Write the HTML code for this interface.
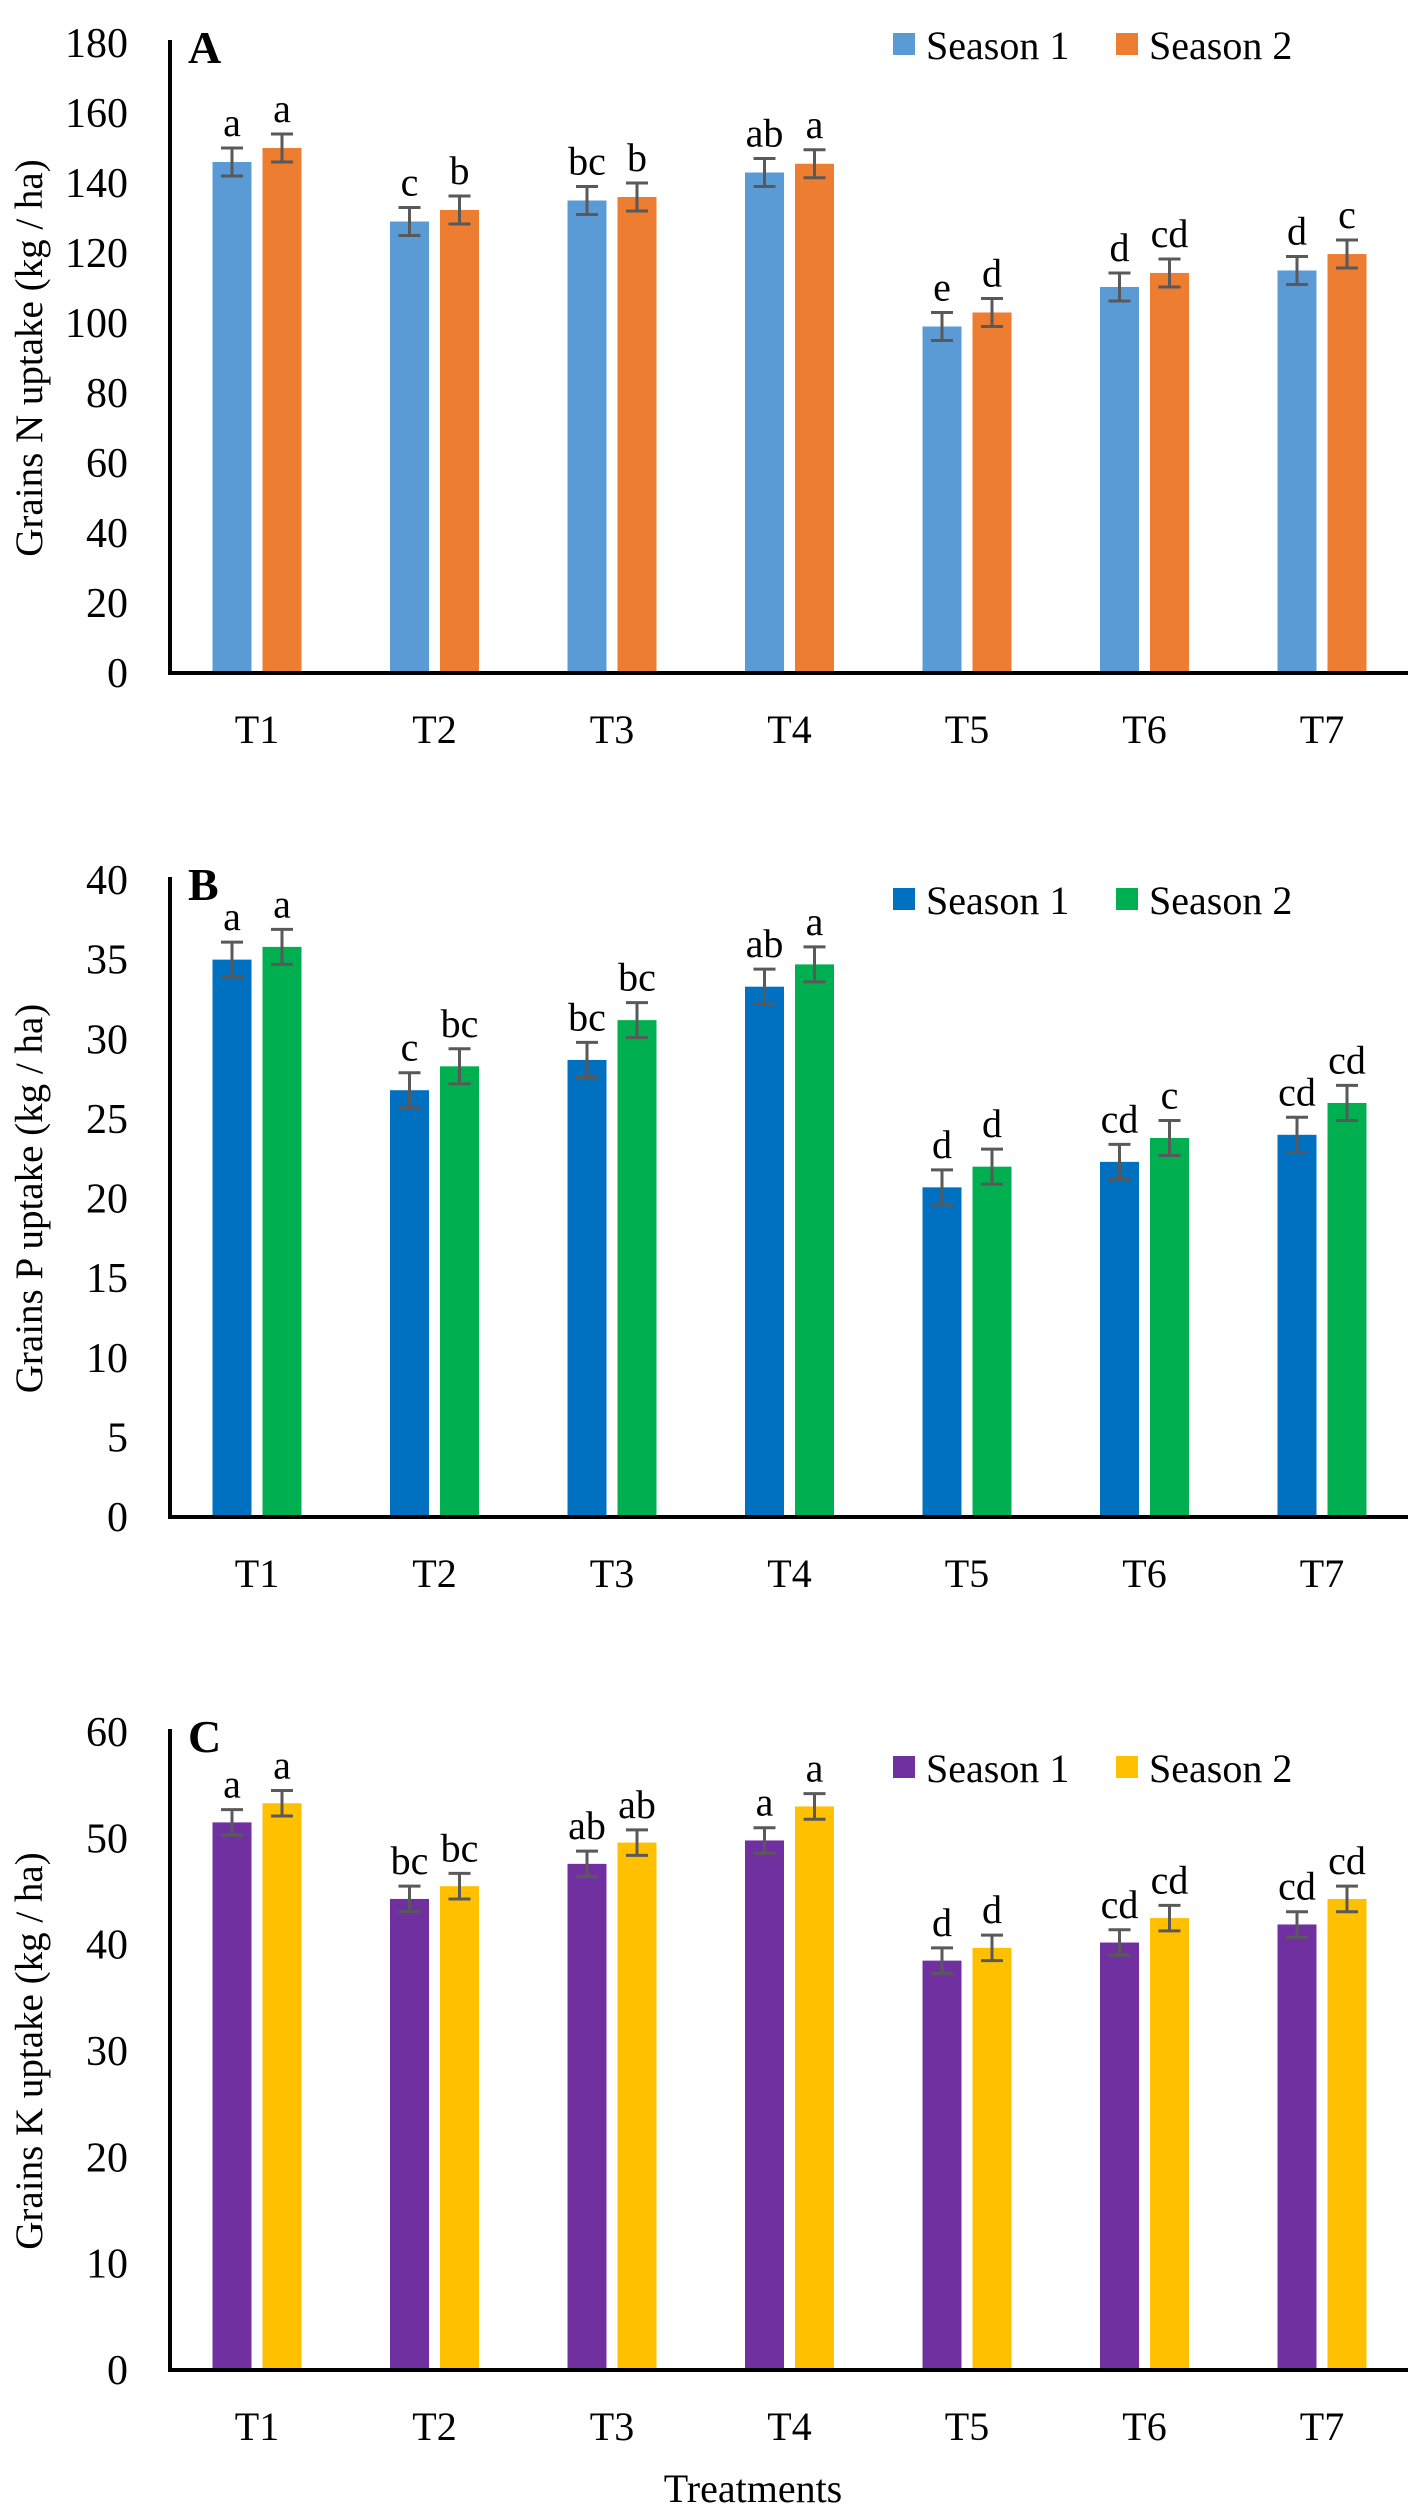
<!DOCTYPE html>
<html><head><meta charset="utf-8"><style>
html,body{margin:0;padding:0;background:#fff;}
svg{display:block;font-family:"Liberation Serif","Times New Roman",serif;}
</style></head><body>
<svg id="chart" width="1417" height="2511" viewBox="0 0 1417 2511" xmlns="http://www.w3.org/2000/svg">
<rect width="1417" height="2511" fill="#fff"/>
<text x="753" y="2502" font-size="40" text-anchor="middle">Treatments</text>
</svg>
<script>
const categories = ["T1","T2","T3","T4","T5","T6","T7"];
const nSeason1 = [146,129,135,143,99,110.3,115];
const nSeason2 = [150,132.3,136,145.5,103,114.3,119.7];
const nErr1 = [4,4,4,4,4,4,4];
const nErr2 = [4,4,4,4,4,4,4];
const nLetters1 = ["a","c","bc","ab","e","d","d"];
const nLetters2 = ["a","b","b","a","d","cd","c"];
const nTicks = [0,20,40,60,80,100,120,140,160,180];
const pSeason1 = [35,26.8,28.7,33.3,20.7,22.3,24];
const pSeason2 = [35.8,28.3,31.2,34.7,22,23.8,26];
const pErr1 = [1.1,1.1,1.1,1.1,1.1,1.1,1.1];
const pErr2 = [1.1,1.1,1.1,1.1,1.1,1.1,1.1];
const pLetters1 = ["a","c","bc","ab","d","cd","cd"];
const pLetters2 = ["a","bc","bc","a","d","c","cd"];
const pTicks = [0,5,10,15,20,25,30,35,40];
const kSeason1 = [51.5,44.3,47.6,49.8,38.5,40.2,41.9];
const kSeason2 = [53.3,45.5,49.6,53,39.7,42.5,44.3];
const kErr1 = [1.2,1.2,1.2,1.2,1.2,1.2,1.2];
const kErr2 = [1.2,1.2,1.2,1.2,1.2,1.2,1.2];
const kLetters1 = ["a","bc","ab","a","d","cd","cd"];
const kLetters2 = ["a","bc","ab","a","d","cd","cd"];
const kTicks = [0,10,20,30,40,50,60];

const NS="http://www.w3.org/2000/svg";
const svg=document.getElementById('chart');
function mk(tag,attrs,parent){const e=document.createElementNS(NS,tag);for(const k in attrs)e.setAttribute(k,attrs[k]);(parent||svg).appendChild(e);return e;}

function panel(cfg){
  const g=mk('g',{});
  
  
  const y0=cfg.base, yTop=cfg.top, vmax=cfg.ticks[cfg.ticks.length-1];
  const yScale=v=>y0-(v/vmax)*(y0-yTop);
  const xC=i=>257+177.5*i;
  cfg.ticks.forEach(t=>{
    const tx=mk('text',{x:128,y:yScale(t)+14,'font-size':42,'text-anchor':'end'},g);
    
    
    tx.textContent=t;
  });
  const series=[[cfg.s1,cfg.e1,cfg.l1,cfg.c1,-44.5],[cfg.s2,cfg.e2,cfg.l2,cfg.c2,5.5]];
  series.forEach((s,si)=>{
    s[0].forEach((v,i)=>{
      const x=xC(i)+s[4];
      const r=mk('rect',{x:x,y:yScale(v),width:39,height:y0-yScale(v),fill:s[3]},g);
      
      
      const cx=x+19.5, yh=yScale(v+s[1][i]), yl=yScale(v-s[1][i]);
      const eb=mk('path',{d:`M${cx},${yh}V${yl}M${cx-11},${yh}H${cx+11}M${cx-11},${yl}H${cx+11}`,stroke:'#595959','stroke-width':3,fill:'none'},g);
      
      
      const lt=mk('text',{x:cx,y:yh-12,'font-size':40,'text-anchor':'middle'},g);
      
      
      lt.textContent=s[2][i];
    });
  });
  const ax=mk('path',{d:`M170,${yTop-3}V${y0}H1408`,stroke:'#000','stroke-width':4,fill:'none'},g);
  
  
  categories.forEach((c,i)=>{
    const t=mk('text',{x:xC(i),y:y0+70,'font-size':40,'text-anchor':'middle'},g);
    
    
    t.textContent=c;
  });
  const pl=mk('text',{x:188,y:yTop+20,'font-size':46,'font-weight':'bold'},g);
  
  
  pl.textContent=cfg.id;
  const yt=mk('text',{x:0,y:0,'font-size':39,'text-anchor':'middle',transform:`translate(42,${(y0+yTop)/2}) rotate(-90)`},g);
  
  
  yt.textContent=cfg.title;
  const ly=cfg.leg;
  [[cfg.c1,'Season 1',893],[cfg.c2,'Season 2',1116]].forEach(l=>{
    const sq=mk('rect',{x:l[2],y:ly-11,width:22,height:22,fill:l[0]},g);
    
    
    const lt=mk('text',{x:l[2]+33,y:ly+15,'font-size':40},g);
    
    
    lt.textContent=l[1];
  });
}
panel({id:'A',base:673,top:43,ticks:nTicks,s1:nSeason1,s2:nSeason2,e1:nErr1,e2:nErr2,l1:nLetters1,l2:nLetters2,c1:'#5B9BD5',c2:'#ED7D31',title:'Grains  N uptake  (kg / ha)',leg:44});
panel({id:'B',base:1517,top:880,ticks:pTicks,s1:pSeason1,s2:pSeason2,e1:pErr1,e2:pErr2,l1:pLetters1,l2:pLetters2,c1:'#0070C0',c2:'#00B050',title:'Grains  P uptake  (kg / ha)',leg:899});
panel({id:'C',base:2370,top:1732,ticks:kTicks,s1:kSeason1,s2:kSeason2,e1:kErr1,e2:kErr2,l1:kLetters1,l2:kLetters2,c1:'#7030A0',c2:'#FFC000',title:'Grains  K uptake  (kg / ha)',leg:1767});
</script>
</body></html>
